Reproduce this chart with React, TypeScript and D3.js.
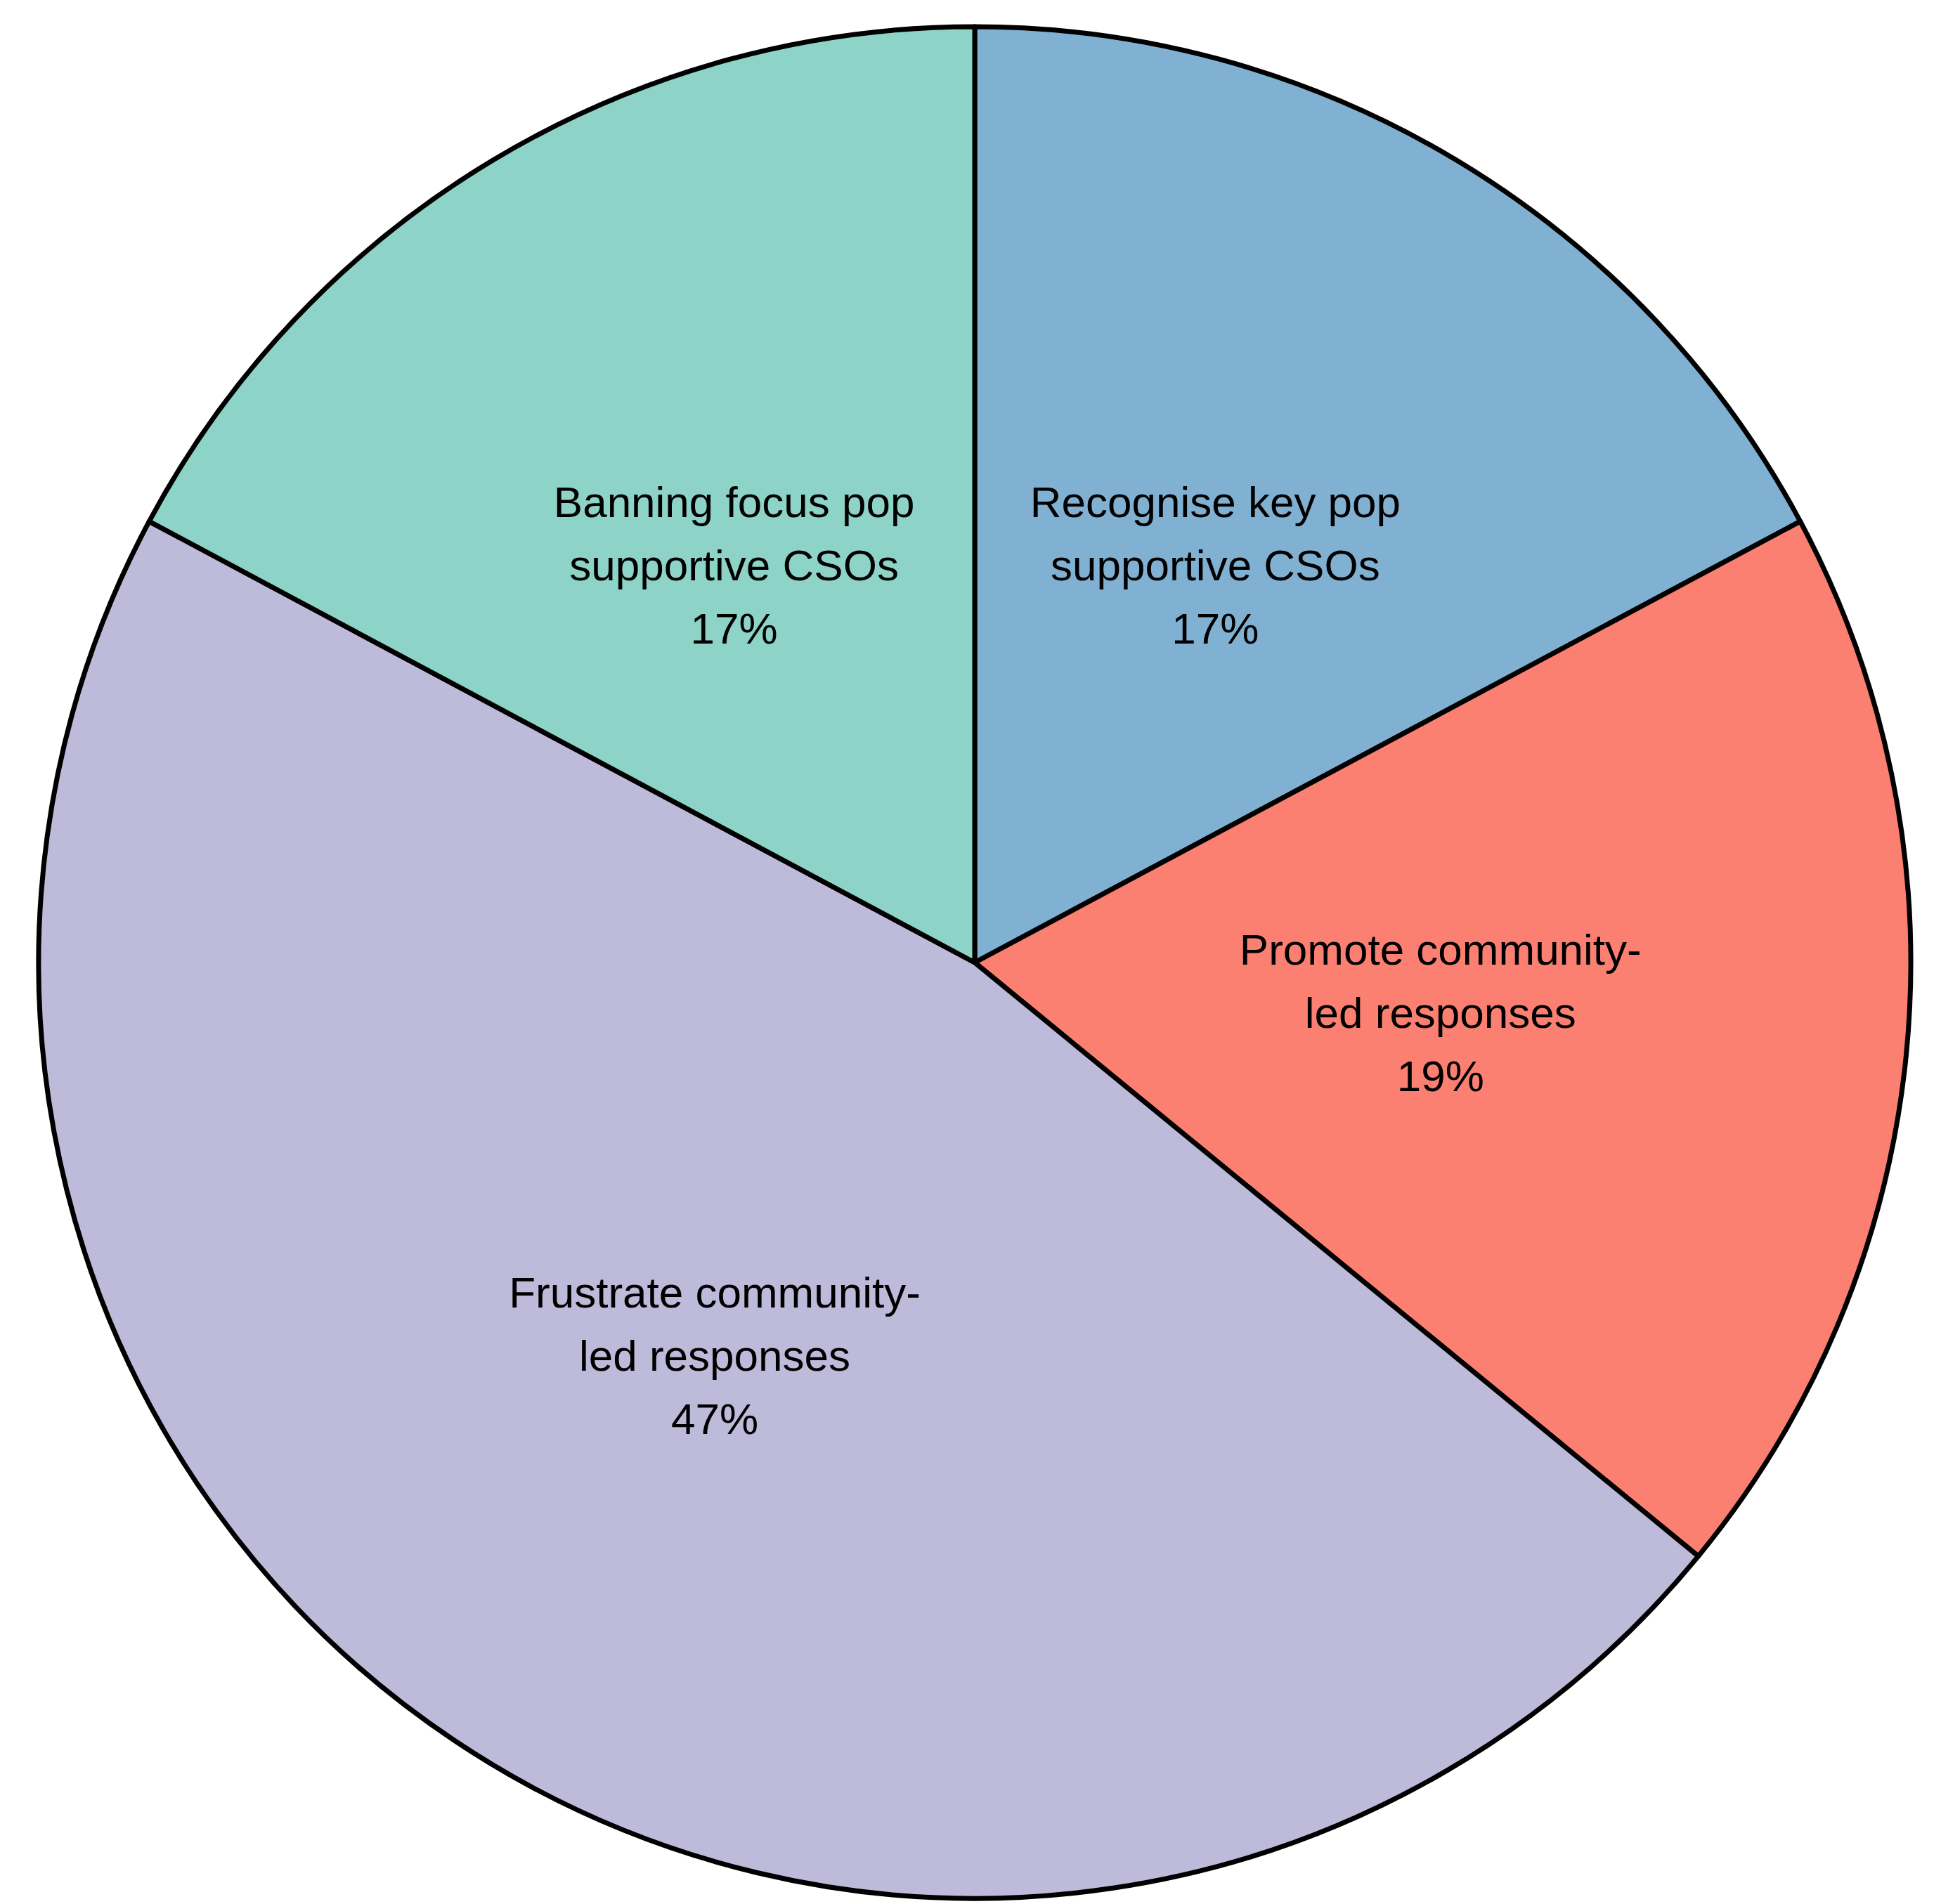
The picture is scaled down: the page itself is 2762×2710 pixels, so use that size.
import React from "react";
import * as d3 from "d3";

const categories = [
  "Recognise key pop supportive CSOs",
  "Promote community-led responses",
  "Frustrate community-led responses",
  "Banning focus pop supportive CSOs",
];
const labelLines = [
  ["Recognise key pop", "supportive CSOs"],
  ["Promote community-", "led responses"],
  ["Frustrate community-", "led responses"],
  ["Banning focus pop", "supportive CSOs"],
];
const values = [11, 12, 30, 11];
const colors = ["#80b1d3", "#fb8072", "#bebada", "#8dd3c7"];

const W = 2762;
const H = 2710;
const CX = 1387;
const CY = 1370;
const R = 1332;
const FONT = 62;
const LINE = 90;

export default function App() {
  const total = d3.sum(values);
  const data = categories.map((c, i) => ({ c, v: values[i], i }));
  const pie = d3.pie<any>().sort(null).value((d: any) => d.v);
  const arcs = pie(data);
  const arc = d3.arc<any>().innerRadius(0).outerRadius(R);
  const labelArc = d3.arc<any>().innerRadius(R * 0.5).outerRadius(R * 0.5);
  const fmt = (v: number) => `${Math.round((v / total) * 100)}%`;

  return (
    <svg
      width={W}
      height={H}
      style={{ position: "absolute", left: 0, top: 0, background: "#fff" }}
    >
      <g transform={`translate(${CX},${CY})`}>
        {arcs.map((a, i) => (
          <path
            key={i}
            d={arc(a) as string}
            fill={colors[i]}
            stroke="#000"
            strokeWidth={7}
            strokeLinejoin="round"
          />
        ))}
        {arcs.map((a, i) => {
          const [x, y] = labelArc.centroid(a);
          const lines = [...labelLines[i], fmt(values[i])];
          return (
            <text
              key={"t" + i}
              x={x}
              y={y}
              textAnchor="middle"
              fontFamily="'Liberation Sans', Arial, sans-serif"
              fontSize={FONT}
              fill="#000"
            >
              {lines.map((l, j) => (
                <tspan
                  key={j}
                  x={x}
                  y={y + (j - 1) * LINE + FONT * 0.36 + 5}
                >
                  {l}
                </tspan>
              ))}
            </text>
          );
        })}
      </g>
    </svg>
  );
}
